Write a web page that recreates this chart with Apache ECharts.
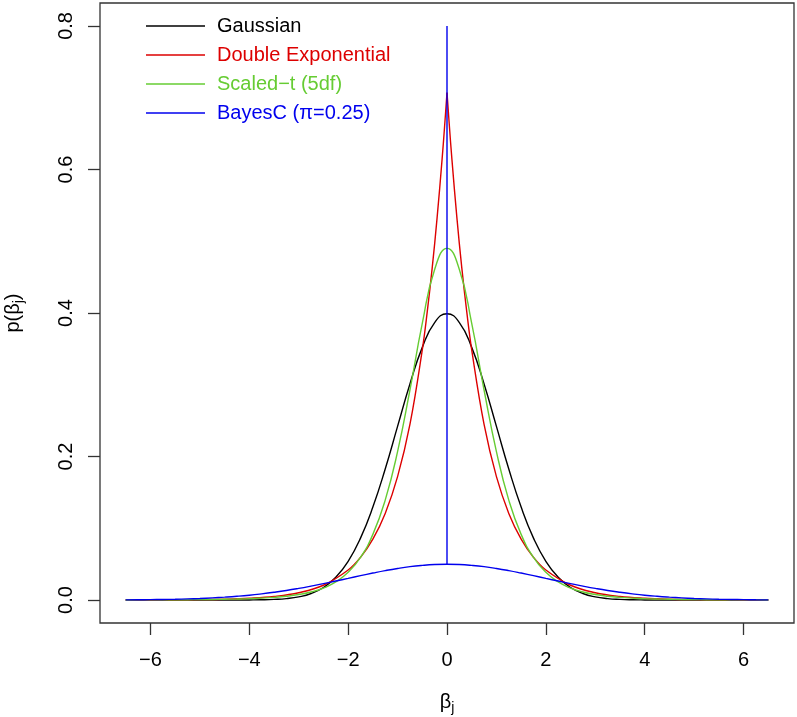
<!DOCTYPE html>
<html>
<head>
<meta charset="utf-8">
<script src="https://cdn.jsdelivr.net/npm/echarts@6/dist/echarts.min.js"></script>
<style>html,body{margin:0;padding:0;background:#fff}#c{width:797px;height:717px}</style>
</head>
<body>
<div id="c"></div>
<script>
// Values (x >= 0; every curve is symmetric about 0)
const gridX = [0,0.25,0.5,0.75,1,1.25,1.5,1.75,2,2.25,2.5,2.75,3,3.25,3.5,3.75,4,4.25,4.5,4.75,5,5.25,5.5,5.75,6,6.25,6.5];
const gaussY = [0.3989,0.3867,0.3521,0.3011,0.2420,0.1826,0.1295,0.0863,0.0540,0.0317,0.0175,0.0091,0.0044,0.0020,0.0009,0.00035,0.00013,0.00005,0.00002,0.00001,0,0,0,0,0,0,0];
const tY = [0.4901,0.4607,0.3855,0.2927,0.2068,0.1393,0.0915,0.0594,0.0386,0.0252,0.0167,0.0112,0.0077,0.0053,0.0037,0.0027,0.0019,0.0014,0.0011,0.0008,0.0006,0.00046,0.00036,0.00028,0.00022,0.00018,0.00014];
const bayesY = [0.0499,0.0495,0.0483,0.0465,0.0440,0.0410,0.0376,0.0340,0.0302,0.0265,0.0228,0.0194,0.0162,0.0133,0.0108,0.0086,0.0067,0.0052,0.0040,0.0030,0.0022,0.0016,0.0011,0.0008,0.00055,0.00038,0.00025];
const lapX = [0,0.05,0.1,0.2,0.3,0.4,0.5,0.75,1,1.25,1.5,1.75,2,2.5,3,3.5,4,4.5,5,5.5,6,6.5];
const lapY = [0.7071,0.6588,0.6138,0.5329,0.4626,0.4016,0.3487,0.2448,0.1719,0.1207,0.0848,0.0595,0.0418,0.0206,0.0102,0.0050,0.0025,0.0012,0.0006,0.0003,0.00015,0.00007];
const spikeX = [0,0];
const spikeY = [0.05,0.8];
const xTicks = [-6,-4,-2,0,2,4,6];
const yTicks = [0,0.2,0.4,0.6,0.8];
const names = ['Gaussian','Double Exponential','Scaled\u2212t (5df)','BayesC (\u03c0=0.25)'];
const colors = ['#000000','#DD0000','#66CC33','#0000EE'];

function sym(xs, ys){
  const out = [];
  for (let i = xs.length-1; i > 0; i--) out.push([-xs[i], ys[i]]);
  for (let i = 0; i < xs.length; i++) out.push([xs[i], ys[i]]);
  return out;
}
function leftHalf(xs, ys){
  const out = [];
  for (let i = xs.length-1; i >= 0; i--) out.push([-xs[i], ys[i]]);
  return out;
}
function rightHalf(xs, ys){
  return xs.map((x,i)=>[x, ys[i]]);
}
const FONT = 'Liberation Sans, Arial, Helvetica, sans-serif';
const chart = echarts.init(document.getElementById('c'));
const lineCommon = {type:'line', showSymbol:false, symbol:'none', animation:false, clip:true};
function mk(i, data, smooth){
  return Object.assign({}, lineCommon, {name:names[i], data:data, smooth:smooth,
    lineStyle:{color:colors[i], width:1.4}, itemStyle:{color:colors[i]}});
}
chart.setOption({
  animation:false,
  grid:{left:100, right:3, top:3, bottom:94, show:true, borderColor:'#333', borderWidth:1.3, backgroundColor:'transparent', containLabel:false, outerBoundsMode:'none'},
  xAxis:{
    type:'value', min:-7.02, max:7.02,
    axisLine:{show:false, onZero:false},
    splitLine:{show:false},
    axisTick:{show:true, customValues:xTicks, length:12, lineStyle:{color:'#333', width:1.3}},
    axisLabel:{customValues:xTicks, margin:27, fontSize:20, color:'#000', fontFamily:FONT,
      formatter:v=>(v<0?'\u2212'+Math.abs(v):String(v))},
    name:'{b|\u03b2}{s|j}', nameLocation:'middle', nameGap:67,
    nameTextStyle:{fontFamily:FONT, color:'#000', rich:{b:{fontSize:20, fontFamily:FONT}, s:{fontSize:14, fontFamily:FONT, padding:[11,0,0,0]}}}
  },
  yAxis:{
    type:'value', min:-0.032, max:0.832,
    axisLine:{show:false, onZero:false},
    splitLine:{show:false},
    axisTick:{show:true, customValues:yTicks, length:12, lineStyle:{color:'#333', width:1.3}},
    axisLabel:{customValues:yTicks, rotate:90, margin:24, fontSize:20, color:'#000', fontFamily:FONT,
      formatter:v=>v.toFixed(1)},
    name:'{n|p(\u03b2}{s|j}{n|)}', nameLocation:'middle', nameGap:74, nameRotate:90,
    nameTextStyle:{fontFamily:FONT, color:'#000', rich:{n:{fontSize:20, fontFamily:FONT}, s:{fontSize:14, fontFamily:FONT, padding:[11,0,0,0]}}}
  },
  legend:{
    orient:'vertical', left:141, top:11, itemWidth:59, itemHeight:1.5, itemGap:9, icon:'rect',
    selectedMode:false,
    textStyle:{fontSize:20, fontFamily:FONT, lineHeight:20, padding:[0,0,0,7]},
    data:names.map((n,i)=>({name:n, itemStyle:{color:colors[i]}, textStyle:{color:colors[i]}}))
  },
  series:[
    mk(0, sym(gridX,gaussY), true),
    mk(1, leftHalf(lapX,lapY), 0.4),
    mk(1, rightHalf(lapX,lapY), 0.4),
    mk(2, sym(gridX,tY), true),
    mk(3, sym(gridX,bayesY), true),
    mk(3, spikeX.map((x,i)=>[x,spikeY[i]]), false)
  ]
});
</script>
</body>
</html>
